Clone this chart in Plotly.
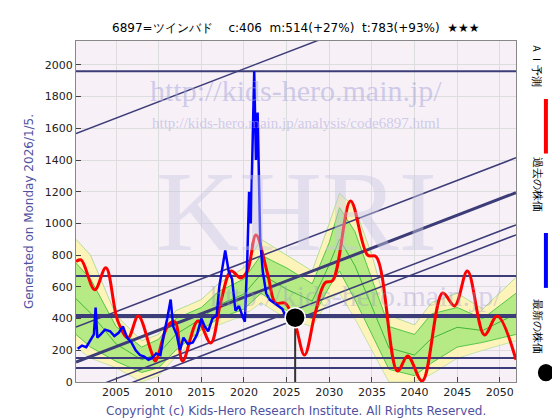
import plotly.graph_objects as go

title = "6897=ツインバド　 c:406  m:514(+27%)  t:783(+93%)  ★★★"

ai_x = [2000.3,2000.9,2002.5,2003.8,2005.2,2006.4,2007.6,2009.1,2009.6,2011.1,2011.9,2012.8,2014.6,2016.1,2017.3,2018.5,2019.6,2020.4,2021.4,2022.8,2023.7,2024.8,2025.9,2027.1,2028.3,2029.5,2030.4,2032.5,2034.5,2035.5,2038.0,2039.2,2040.9,2043.3,2044.7,2046.2,2048.2,2049.7,2051.9]
ai_y = [760,770,582,720,385,278,416,196,132,360,380,132,385,246,511,700,656,700,927,675,498,498,385,170,423,625,640,1142,800,790,69,164,6,561,480,700,297,416,140]

past_x = [2000.5,2001,2001.5,2002,2002.4,2002.6,2002.8,2003.2,2003.7,2004.3,2004.8,2005.3,2005.8,2006.3,2006.8,2007.3,2007.8,2008.3,2008.8,2009.2,2009.7,2010.2,2010.6,2011.0,2011.4,2011.7,2012.1,2012.5,2012.9,2013.4,2014.0,2014.5,2015.0,2015.4,2015.8,2016.3,2016.8,2017.1,2017.4,2017.8,2018.2,2018.6,2019.0,2019.4,2019.8,2020.1,2020.4,2020.6,2020.8,2021.0,2021.2,2021.4,2021.6,2021.9,2022.2,2022.6,2023.0,2023.5,2024.0,2024.5,2025.0]
past_y = [210,230,220,260,300,470,280,300,330,320,290,310,350,280,250,200,170,160,140,150,180,170,300,400,520,350,300,200,280,240,250,300,400,350,320,400,420,600,700,830,700,650,450,480,420,380,800,1200,1000,1500,1960,1400,1700,900,700,560,520,500,480,460,400]

band_x = [2000.3,2002,2005,2008,2010,2012,2015,2017,2020,2022,2025,2028,2030,2031.2,2033,2035,2037,2040,2042,2045,2048,2051.9]
yellow_hi = [900,800,420,260,300,450,520,620,720,900,800,700,1000,1190,1100,800,420,360,500,560,460,660]
yellow_lo = [220,150,90,0,40,160,300,360,420,500,400,350,520,560,400,200,0,0,50,150,200,260]
green_hi = [750,650,350,220,270,400,470,570,650,800,720,620,880,1100,950,650,350,300,430,470,400,560]
green_lo = [300,220,130,60,90,200,330,400,460,560,450,400,600,700,520,300,80,40,120,220,250,300]

trend_offsets = [1561, 340, 120, -83, -146]
trend_slope = 20.7
trend_widths = [1.5, 1.5, 3, 1.5, 1.5]
h_levels = [1960, 669, 416, 151, 88]
h_widths = [2, 2, 4, 2, 2]
latest_x, latest_y = 2026.0, 406

fig = go.Figure()
fig.add_trace(go.Scatter(x=band_x, y=yellow_lo, mode="lines", line=dict(color="#b8e0a0", width=0.8), hoverinfo="skip"))
fig.add_trace(go.Scatter(x=band_x, y=yellow_hi, mode="lines", fill="tonexty", fillcolor="rgba(255,245,170,0.8)", line=dict(color="#9fd88a", width=0.8), hoverinfo="skip"))
fig.add_trace(go.Scatter(x=band_x, y=green_lo, mode="lines", line=dict(color="#33bb33", width=0.8), hoverinfo="skip"))
fig.add_trace(go.Scatter(x=band_x, y=green_hi, mode="lines", fill="tonexty", fillcolor="rgba(150,230,110,0.7)", line=dict(color="#33bb33", width=0.8), hoverinfo="skip"))
mid = [(a + b) / 2 for a, b in zip(green_hi, green_lo)]
fig.add_trace(go.Scatter(x=band_x, y=mid, mode="lines", line=dict(color="#22aa22", width=0.8), hoverinfo="skip"))

x0, x1 = 2000.3, 2051.9
for off, w in zip(trend_offsets, trend_widths):
    fig.add_trace(go.Scatter(x=[x0, x1], y=[off + trend_slope * (x0 - 2000), off + trend_slope * (x1 - 2000)],
                             mode="lines", line=dict(color="#3c3c78", width=w), hoverinfo="skip"))
for lv, w in zip(h_levels, h_widths):
    fig.add_trace(go.Scatter(x=[x0, x1], y=[lv, lv], mode="lines", line=dict(color="#3c3c78", width=w), hoverinfo="skip"))

fig.add_trace(go.Scatter(x=ai_x, y=ai_y, mode="lines", line=dict(color="#ff0000", width=3, shape="spline"), hoverinfo="skip"))
fig.add_trace(go.Scatter(x=past_x, y=past_y, mode="lines", line=dict(color="#0000ff", width=2.5), hoverinfo="skip"))
fig.add_trace(go.Scatter(x=[latest_x, latest_x], y=[0, latest_y], mode="lines", line=dict(color="#333333", width=2), hoverinfo="skip"))
fig.add_trace(go.Scatter(x=[latest_x], y=[latest_y], mode="markers", marker=dict(color="black", size=20, line=dict(color="white", width=1.5)), hoverinfo="skip"))

wm = "rgba(170,170,220,0.55)"
ann = [
    dict(text="KHRI", x=0.5, y=0.5, font=dict(size=115, color="rgba(200,200,225,0.45)", family="Liberation Serif")),
    dict(text="http://kids-hero.main.jp/", x=0.5, y=0.91, font=dict(size=30, color=wm, family="Liberation Serif")),
    dict(text="http://kids-hero.main.jp/analysis/code6897.html", x=0.5, y=0.79, font=dict(size=15, color=wm, family="Liberation Serif")),
    dict(text="http://kids-hero.main.jp/", x=0.3, y=0.2, font=dict(size=30, color="rgba(150,150,200,0.35)", family="Liberation Serif")),
]
annotations = [dict(xref="paper", yref="paper", showarrow=False, **a) for a in ann]
lx = 1.068
annotations += [
    dict(text=title, x=0.5, y=1.0, xref="paper", yref="paper", yanchor="bottom", yshift=4, showarrow=False, font=dict(size=12, color="black")),
    dict(text="Copyright (c) Kids-Hero Research Institute. All Rights Reserved.", x=0.5, y=0, xref="paper", yref="paper",
         yanchor="top", yshift=-20, showarrow=False, font=dict(size=12, color="#5050a0")),
    dict(text="ＡＩ予測", x=lx, y=1.0, xref="paper", yref="paper", yanchor="top", textangle=90, showarrow=False, font=dict(size=11, color="black")),
    dict(text="過去の株価", x=lx, y=0.665, xref="paper", yref="paper", yanchor="top", textangle=90, showarrow=False, font=dict(size=11, color="black")),
    dict(text="最新の株価", x=lx, y=0.25, xref="paper", yref="paper", yanchor="top", textangle=90, showarrow=False, font=dict(size=11, color="black")),
]
shapes = [
    dict(type="line", xref="paper", yref="paper", x0=lx, x1=lx, y0=0.67, y1=0.83, line=dict(color="red", width=4)),
    dict(type="line", xref="paper", yref="paper", x0=lx, x1=lx, y0=0.276, y1=0.437, line=dict(color="blue", width=4)),
    dict(type="circle", xref="paper", yref="paper", x0=lx - 0.016, x1=lx + 0.016, y0=0.005, y1=0.05, fillcolor="black", line=dict(color="black")),
]

fig.update_layout(
    width=560, height=420, margin=dict(l=68, r=52, t=33, b=46),
    paper_bgcolor="white", plot_bgcolor="#f7f0f7", showlegend=False,
    font=dict(family="DejaVu Sans", size=11, color="#222"),
    annotations=annotations, shapes=shapes,
    xaxis=dict(range=[2000.3, 2051.9], tickvals=list(range(2005, 2051, 5)), showgrid=True, gridcolor="#dddddd",
               ticks="inside", mirror=True, showline=True, linecolor="#888", zeroline=False),
    yaxis=dict(range=[0, 2151], dtick=200, showgrid=True, gridcolor="#dddddd", ticks="inside", mirror=True,
               showline=True, linecolor="#888", zeroline=False,
               title=dict(text="Generated on Monday 2026/1/5.", font=dict(size=12, color="#5050a0"), standoff=8)),
)
fig.write_html("out.html")
